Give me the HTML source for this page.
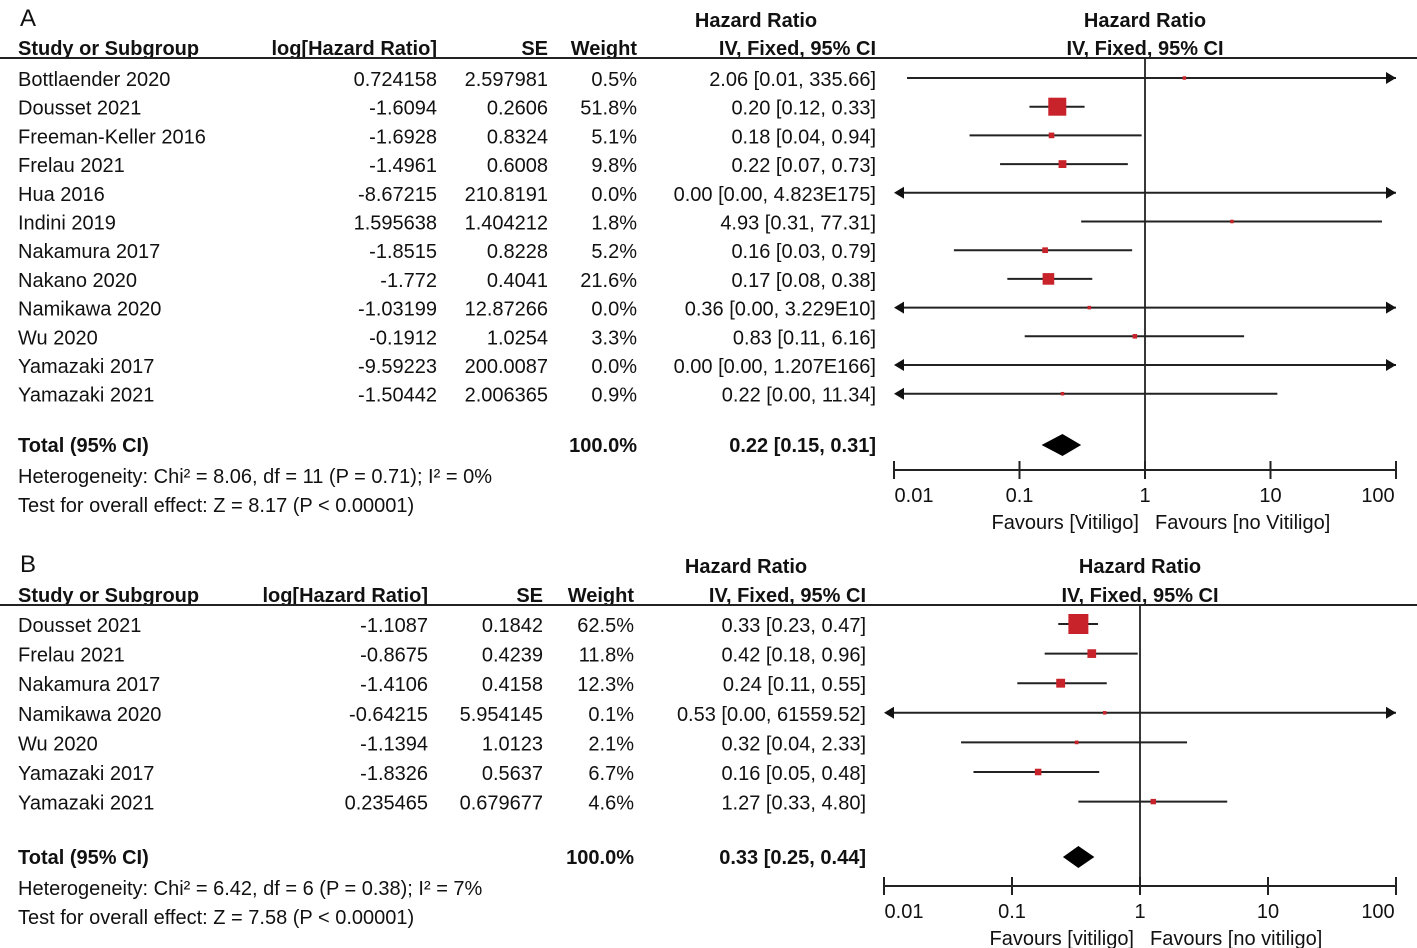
<!DOCTYPE html>
<html><head><meta charset="utf-8"><style>
body{margin:0;background:#fff}
svg{display:block}
text{font-family:"Liberation Sans",sans-serif;font-size:20px;fill:#111}
.b{font-weight:bold}
.L{font-size:24px}
</style></head><body>
<svg id="s" width="1417" height="948"></svg>
<script>
// Panel A data
const studiesA=["Bottlaender 2020","Dousset 2021","Freeman-Keller 2016","Frelau 2021","Hua 2016","Indini 2019","Nakamura 2017","Nakano 2020","Namikawa 2020","Wu 2020","Yamazaki 2017","Yamazaki 2021"];
const logA=["0.724158","-1.6094","-1.6928","-1.4961","-8.67215","1.595638","-1.8515","-1.772","-1.03199","-0.1912","-9.59223","-1.50442"];
const seA=["2.597981","0.2606","0.8324","0.6008","210.8191","1.404212","0.8228","0.4041","12.87266","1.0254","200.0087","2.006365"];
const weightA=[0.5,51.8,5.1,9.8,0.0,1.8,5.2,21.6,0.0,3.3,0.0,0.9];
const hrA=[2.06,0.20,0.18,0.22,0.00,4.93,0.16,0.17,0.36,0.83,0.00,0.22];
const loA=[0.0127,0.12,0.04,0.07,0.00,0.31,0.03,0.08,0.00,0.11,0.00,0.00];
const hiA=[335.66,0.33,0.94,0.73,4.823e175,77.31,0.79,0.38,3.229e10,6.16,1.207e166,11.34];
const ciTextA=["2.06 [0.01, 335.66]","0.20 [0.12, 0.33]","0.18 [0.04, 0.94]","0.22 [0.07, 0.73]","0.00 [0.00, 4.823E175]","4.93 [0.31, 77.31]","0.16 [0.03, 0.79]","0.17 [0.08, 0.38]","0.36 [0.00, 3.229E10]","0.83 [0.11, 6.16]","0.00 [0.00, 1.207E166]","0.22 [0.00, 11.34]"];
const totalA=[0.22,0.15,0.31];
// Panel B data
const studiesB=["Dousset 2021","Frelau 2021","Nakamura 2017","Namikawa 2020","Wu 2020","Yamazaki 2017","Yamazaki 2021"];
const logB=["-1.1087","-0.8675","-1.4106","-0.64215","-1.1394","-1.8326","0.235465"];
const seB=["0.1842","0.4239","0.4158","5.954145","1.0123","0.5637","0.679677"];
const weightB=[62.5,11.8,12.3,0.1,2.1,6.7,4.6];
const hrB=[0.33,0.42,0.24,0.53,0.32,0.16,1.27];
const loB=[0.23,0.18,0.11,0.00,0.04,0.05,0.33];
const hiB=[0.47,0.96,0.55,61559.52,2.33,0.48,4.80];
const ciTextB=["0.33 [0.23, 0.47]","0.42 [0.18, 0.96]","0.24 [0.11, 0.55]","0.53 [0.00, 61559.52]","0.32 [0.04, 2.33]","0.16 [0.05, 0.48]","1.27 [0.33, 4.80]"];
const totalB=[0.33,0.25,0.44];
const ticks=[0.01,0.1,1,10,100];
const tickLabels=["0.01","0.1","1","10","100"];

const NS="http://www.w3.org/2000/svg";
const svg=document.getElementById('s');
function mk(tag,attrs,parent){const e=document.createElementNS(NS,tag);for(const k in attrs)e.setAttribute(k,attrs[k]);(parent||svg).appendChild(e);return e;}
function txt(x,y,s,anchor,cls,name){const t=mk('text',{x:x,y:y,'text-anchor':anchor||'start'});if(cls)t.setAttribute('class',cls);t.textContent=s;


return t;}

function panel(P){
  const X=v=>P.x1+Math.log10(v)*P.dec;
  txt(P.lx,P.ly,P.letter,'start','L',P.letter+'-panel-letter');
  txt(P.cx[4]-120,P.h1,'Hazard Ratio','middle','b','hr-header');
  txt(P.x1,P.h1,'Hazard Ratio','middle','b','hr-plot-header');
  txt(18,P.h2,'Study or Subgroup','start','b','study-header');
  txt(P.cx[0],P.h2,'log[Hazard Ratio]','end','b','loghr-header');
  txt(P.cx[1],P.h2,'SE','end','b','se-header');
  txt(P.cx[2],P.h2,'Weight','end','b','weight-header');
  txt(P.cx[4],P.h2,'IV, Fixed, 95% CI','end','b','ci-header');
  txt(P.x1,P.h2,'IV, Fixed, 95% CI','middle','b','ci-plot-header');
  mk('line',{x1:0,x2:1417,y1:P.hl,y2:P.hl,stroke:'#222','stroke-width':2});
  mk('line',{x1:P.x1,x2:P.x1,y1:P.hl,y2:P.axisY,stroke:'#222','stroke-width':1.8});
  const xmin=X(0.01),xmax=X(100);
  P.st.forEach((s,i)=>{
    const y=P.y0+i*P.dy;
    txt(18,y+8,s,'start','','study-name');
    txt(P.cx[0],y+8,P.lg[i],'end','','loghr-value');
    txt(P.cx[1],y+8,P.se[i],'end','','se-value');
    txt(P.cx[2],y+8,P.w[i].toFixed(1)+'%','end','','weight-value');
    txt(P.cx[4],y+8,P.ct[i],'end','','ci-value');
    let a=P.lo[i]>0?X(P.lo[i]):-1e9, b=X(P.hi[i]);
    const la=a<xmin, ra=b>xmax;
    a=Math.max(a,xmin+4); b=Math.min(b,xmax);
    const l=mk('line',{x1:a,x2:b,y1:y,y2:y,stroke:'#222','stroke-width':2});
    
    
    if(ra){const p=mk('polygon',{points:`${xmax},${y} ${xmax-10},${y-6} ${xmax-10},${y+6}`,fill:'#111'});
      
      }
    if(la){const p=mk('polygon',{points:`${xmin},${y} ${xmin+10},${y-6} ${xmin+10},${y+6}`,fill:'#111'});
      
      }
    if(P.hr[i]>0){const sz=Math.max(3.5,Math.sqrt(P.w[i]/P.wref)*P.bref);
      const r=mk('rect',{x:X(P.hr[i])-sz/2,y:y-sz/2,width:sz,height:sz,fill:'#c8232b'});
      
      }
  });
  const ty=P.ty;
  txt(18,ty+7,'Total (95% CI)','start','b','total-label');
  txt(P.cx[2],ty+7,'100.0%','end','b','total-weight');
  txt(P.cx[4],ty+7,P.tot[0].toFixed(2)+' ['+P.tot[1].toFixed(2)+', '+P.tot[2].toFixed(2)+']','end','b','total-ci');
  const d=mk('polygon',{points:`${X(P.tot[1])},${ty} ${X(P.tot[0])},${ty-11} ${X(P.tot[2])},${ty} ${X(P.tot[0])},${ty+11}`,fill:'#000'});
  
  
  txt(18,ty+38,P.het,'start','','heterogeneity');
  txt(18,ty+67,P.test,'start','','overall-effect');
  mk('line',{x1:xmin,x2:xmax,y1:P.axisY,y2:P.axisY,stroke:'#222','stroke-width':2});
  ticks.forEach((t,i)=>{mk('line',{x1:X(t),x2:X(t),y1:P.axisY-9,y2:P.axisY+9,stroke:'#222','stroke-width':2});
    txt(i==0?X(t)+20:i==4?X(t)-18:X(t),P.axisY+32,tickLabels[i],'middle','','x-tick-label');});
  txt(X(1)-6,P.axisY+59,P.fl,'end','','favours-left');
  txt(X(1)+10,P.axisY+59,P.fr,'start','','favours-right');
}
panel({name:'panel-a',letter:'A',lx:20,ly:26,h1:27,h2:55,hl:58,x1:1145,dec:125.5,cx:[437,548,637,0,876],
  st:studiesA,lg:logA,se:seA,w:weightA,hr:hrA,lo:loA,hi:hiA,ct:ciTextA,tot:totalA,y0:78,dy:28.7,ty:445,axisY:470,
  wref:51.8,bref:18,het:'Heterogeneity: Chi² = 8.06, df = 11 (P = 0.71); I² = 0%',test:'Test for overall effect: Z = 8.17 (P < 0.00001)',
  fl:'Favours [Vitiligo]',fr:'Favours [no Vitiligo]'});
panel({name:'panel-b',letter:'B',lx:20,ly:572,h1:573,h2:602,hl:605,x1:1140,dec:128,cx:[428,543,634,0,866],
  st:studiesB,lg:logB,se:seB,w:weightB,hr:hrB,lo:loB,hi:hiB,ct:ciTextB,tot:totalB,y0:624,dy:29.6,ty:857,axisY:886,
  wref:62.5,bref:20,het:'Heterogeneity: Chi² = 6.42, df = 6 (P = 0.38); I² = 7%',test:'Test for overall effect: Z = 7.58 (P < 0.00001)',
  fl:'Favours [vitiligo]',fr:'Favours [no vitiligo]'});
</script>
</body></html>
